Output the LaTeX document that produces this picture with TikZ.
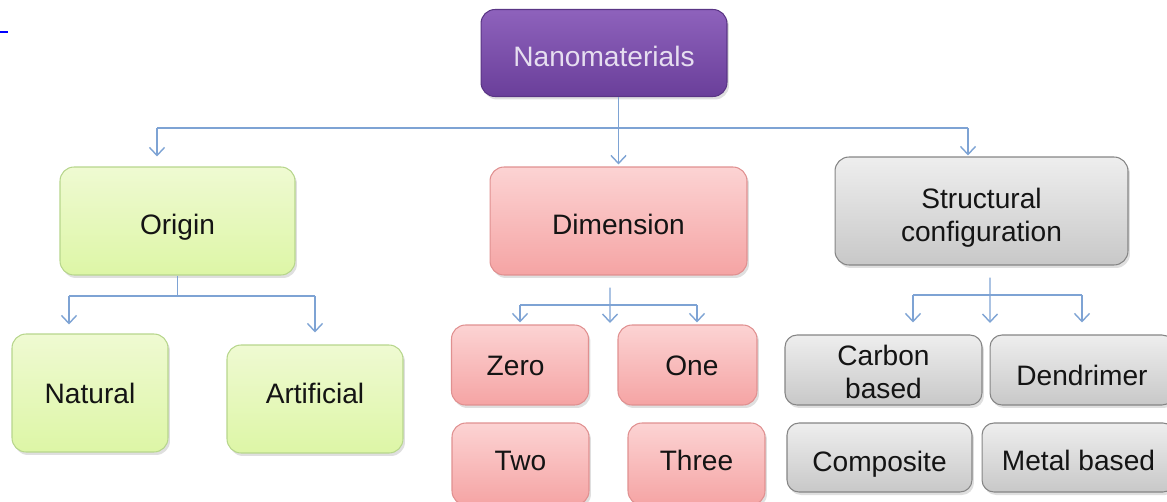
\documentclass[tikz,border=0pt]{standalone}
\usepackage{fontspec}
\setmainfont{Liberation Sans}
\usetikzlibrary{positioning}
\usetikzlibrary{shadows, arrows.meta}

\definecolor{nanotop}{HTML}{8E62BC}
\definecolor{nanobot}{HTML}{6A3F9A}
\definecolor{nanoline}{HTML}{5A3585}
\definecolor{nanotext}{HTML}{E6DEF0}
\definecolor{origtop}{HTML}{EFFAD2}
\definecolor{origbot}{HTML}{DDF6A6}
\definecolor{origline}{HTML}{B7D68C}
\definecolor{dimtop}{HTML}{FCD3D3}
\definecolor{dimbot}{HTML}{F5A4A4}
\definecolor{dimline}{HTML}{E09090}
\definecolor{structop}{HTML}{EEEEEE}
\definecolor{strucbot}{HTML}{C8C8C8}
\definecolor{strucline}{HTML}{858585}
\definecolor{linkblue}{HTML}{7EA3D4}

\begin{document}
\begin{tikzpicture}[x=0.02cm, y=-0.02cm,
  box/.style={rounded corners=0.28cm, align=center, inner sep=2pt, line width=0.6pt,
    font=\fontsize{16}{19}\selectfont, text=black!92, text depth=0pt, text height=11.6pt,
    drop shadow={opacity=0.25, shadow xshift=0.4mm, shadow yshift=-0.6mm}},
  nanobox/.style={box, draw=nanoline, top color=nanotop, bottom color=nanobot, text=nanotext},
  origbox/.style={box, draw=origline, top color=origtop, bottom color=origbot},
  dimbox/.style={box, draw=dimline, top color=dimtop, bottom color=dimbot},
  strucbox/.style={box, draw=strucline, top color=structop, bottom color=strucbot},
  link/.style={draw=linkblue, line width=0.8pt},
  arr/.style={link, -{Straight Barb[length=1.6mm, width=3mm]}}]

  \useasboundingbox (0,0) rectangle (1167,501);
  \clip (0,0) rectangle (1167,501);

  \draw[blue, line width=0.9pt] (0,32) -- (8,32); % stray mark

  % top level
  \node[nanobox, minimum width=4.92cm, minimum height=1.74cm, text height=15pt] (nano) at (604,53) {Nanomaterials};

  \node[origbox, minimum width=4.7cm, minimum height=2.16cm, text height=15pt] (orig) at (177.5,221) {Origin};
  \node[dimbox, minimum width=5.14cm, minimum height=2.16cm, text height=15pt] (dim) at (618.5,221) {Dimension};
  \node[strucbox, minimum width=5.86cm, minimum height=2.16cm, text height=34.7pt] (struc) at (981.5,211) {Structural\\configuration};

  % origin
  \node[origbox, minimum width=3.12cm, minimum height=2.36cm] (nat) at (90,393) {Natural};
  \node[origbox, minimum width=3.52cm, minimum height=2.16cm, text height=4.8pt] (art) at (315,399) {Artificial};

  % dimension
  \node[dimbox, minimum width=2.74cm, minimum height=1.6cm] (zero) at (520,365) {Zero\hspace{5pt}};
  \node[dimbox, minimum width=2.78cm, minimum height=1.6cm] (one) at (687.5,365) {\hspace{5pt}One};
  \node[dimbox, minimum width=2.74cm, minimum height=1.64cm, text height=7pt] (two) at (520.5,464) {Two};
  \node[dimbox, minimum width=2.74cm, minimum height=1.64cm, text height=7pt] (three) at (696.5,464) {Three};

  % structural configuration
  \node[strucbox, minimum width=3.94cm, minimum height=1.4cm, rounded corners=0.24cm, text height=32.7pt] (carbon) at (883.5,370) {Carbon\\based};
  \node[strucbox, minimum width=3.68cm, minimum height=1.4cm, rounded corners=0.24cm, text height=17.2pt] (dend) at (1082,370) {Dendrimer};
  \node[strucbox, minimum width=3.7cm, minimum height=1.38cm, rounded corners=0.24cm, text height=15.5pt] (comp) at (879.5,457.5) {Composite};
  \node[strucbox, minimum width=3.86cm, minimum height=1.38cm, rounded corners=0.24cm, text height=15pt] (metal) at (1078.5,457.5) {Metal based};

  % main branches
  \coordinate (bus) at (0,128);
  \coordinate (origin) at ([xshift=-0.41cm]orig.north);
  \coordinate (strucin) at ([xshift=-0.27cm]struc.north);
  \draw[link] (nano.south -| dim.north) -- (dim.north |- bus);
  \draw[link] (origin |- bus) -- (strucin |- bus);
  \draw[arr] (origin |- bus) -- ([yshift=0.2cm]origin);
  \draw[arr] (dim.north |- bus) -- ([yshift=0.04cm]dim.north);
  \draw[arr] (strucin |- bus) -- ([yshift=0.02cm]strucin);

  % origin branches
  \coordinate (obus) at (0,296);
  \coordinate (natin) at ([xshift=-0.42cm]nat.north);
  \draw[link] (orig.south) -- (orig.south |- obus);
  \draw[link] (natin |- obus) -- (art.north |- obus);
  \draw[arr] (natin |- obus) -- ([yshift=0.18cm]natin);
  \draw[arr] (art.north |- obus) -- ([yshift=0.24cm]art.north);

  % dimension branches
  \coordinate (dbus) at (0,305);
  \coordinate (dout) at ([xshift=-0.17cm, yshift=-0.24cm]dim.south);
  \coordinate (dmid) at (610,323);
  \coordinate (onein) at ([xshift=0.19cm]one.north);
  \draw[arr] (dout) -- (dmid);
  \draw[link] (zero.north |- dbus) -- (onein |- dbus);
  \draw[arr] (zero.north |- dbus) -- ([yshift=0.04cm]zero.north);
  \draw[arr] (onein |- dbus) -- ([yshift=0.04cm]onein);

  % structural branches
  \coordinate (sbus) at (0,295);
  \coordinate (sout) at ([xshift=0.17cm, yshift=-0.24cm]struc.south);
  \coordinate (smid) at (990,323);
  \coordinate (carbonin) at ([xshift=0.59cm]carbon.north);
  \draw[arr] (sout) -- (smid);
  \draw[link] (carbonin |- sbus) -- (dend.north |- sbus);
  \draw[arr] (carbonin |- sbus) -- ([yshift=0.24cm]carbonin);
  \draw[arr] (dend.north |- sbus) -- ([yshift=0.24cm]dend.north);

\end{tikzpicture}
\end{document}
